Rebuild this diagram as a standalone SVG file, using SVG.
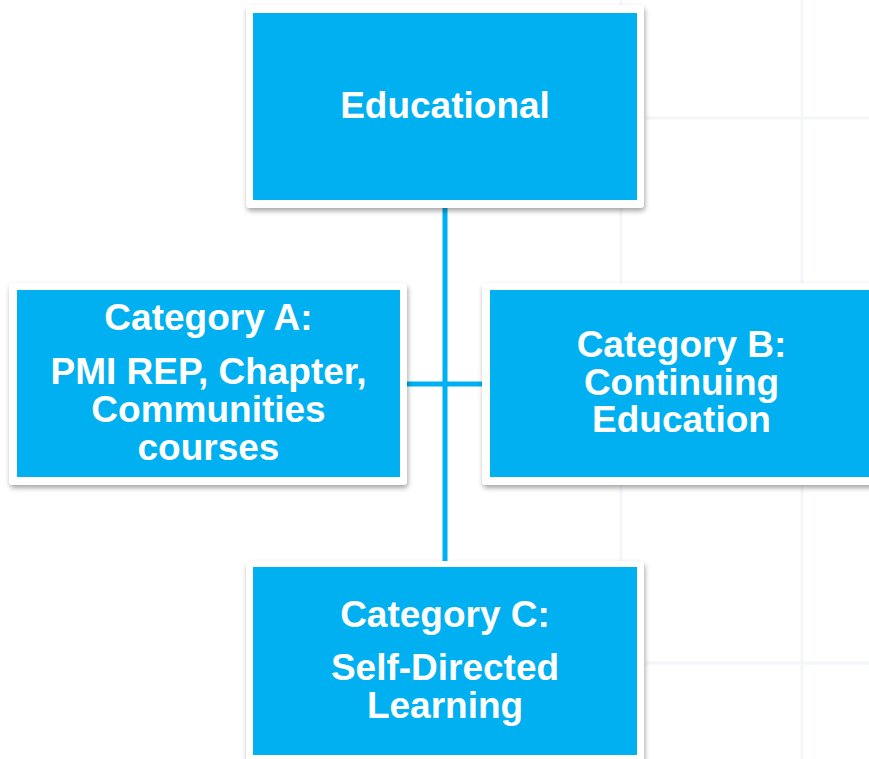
<svg xmlns="http://www.w3.org/2000/svg" width="869" height="759" viewBox="0 0 869 759">
  <defs>
    <filter id="sh" x="-10%" y="-10%" width="120%" height="125%">
      <feDropShadow dx="1" dy="3" stdDeviation="2.5" flood-color="#000" flood-opacity="0.35"/>
    </filter>
    <style>
      .frame { fill: #ffffff; filter: url(#sh); }
      .box { fill: #00b0f0; }
      .lbl { font-family: "Liberation Sans", Arial, sans-serif; font-weight: bold; font-size: 37px; fill: #ffffff; text-anchor: middle; }
      .conn { stroke: #00b0f0; stroke-width: 5; fill: none; }
      .grid { stroke: #f4f6f9; stroke-width: 3; fill: none; }
    </style>
  </defs>
  <rect width="869" height="759" fill="#ffffff"/>
  <g id="background-grid">
    <line class="grid" x1="621" y1="0" x2="621" y2="759"/>
    <line class="grid" x1="802" y1="0" x2="802" y2="759"/>
    <line class="grid" x1="645" y1="118" x2="869" y2="118"/>
    <line class="grid" x1="645" y1="663" x2="869" y2="663"/>
  </g>
  <g id="connectors">
    <line class="conn" x1="445" y1="206" x2="445" y2="563"/>
    <line class="conn" x1="405" y1="384" x2="484" y2="384"/>
  </g>
  <g id="node-educational">
    <rect class="frame" x="246" y="5" width="398" height="203" rx="4"/>
    <rect class="box" x="253" y="13" width="384" height="187"/>
    <text class="lbl" x="445" y="118">Educational</text>
  </g>
  <g id="node-category-a">
    <rect class="frame" x="9" y="283" width="398" height="202" rx="4"/>
    <rect class="box" x="17" y="290" width="383" height="187"/>
    <text class="lbl" x="208.5" y="330">Category A:</text>
    <text class="lbl" x="208.5" y="384">PMI REP, Chapter,</text>
    <text class="lbl" x="208.5" y="422">Communities</text>
    <text class="lbl" x="208.5" y="460">courses</text>
  </g>
  <g id="node-category-b">
    <rect class="frame" x="482" y="283" width="398" height="202" rx="4"/>
    <rect class="box" x="490" y="290" width="383" height="187"/>
    <text class="lbl" x="681.5" y="357">Category B:</text>
    <text class="lbl" x="681.5" y="395">Continuing</text>
    <text class="lbl" x="681.5" y="432">Education</text>
  </g>
  <g id="node-category-c">
    <rect class="frame" x="246" y="561" width="398" height="203" rx="4"/>
    <rect class="box" x="253" y="567" width="384" height="188"/>
    <text class="lbl" x="445" y="627">Category C:</text>
    <text class="lbl" x="445" y="680">Self-Directed</text>
    <text class="lbl" x="445" y="718">Learning</text>
  </g>
</svg>
